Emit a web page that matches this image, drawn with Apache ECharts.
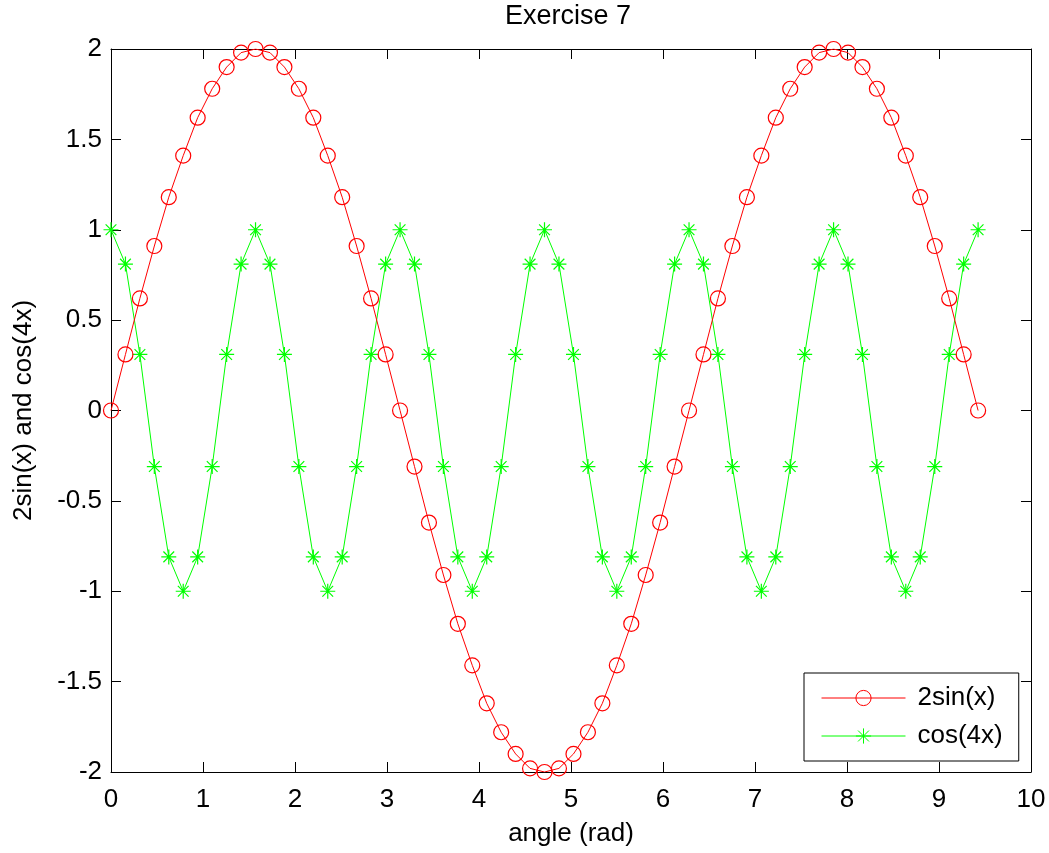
<!DOCTYPE html>
<html>
<head>
<meta charset="utf-8">
<script src="https://cdn.jsdelivr.net/npm/echarts@6/dist/echarts.min.js"></script>
<style>html,body{margin:0;padding:0;background:#fff;}#c{width:1049px;height:853px;}</style>
</head>
<body>
<div id="c"></div>
<script>
const xValues = [0,0.157,0.314,0.471,0.628,0.785,0.942,1.100,1.257,1.414,1.571,1.728,1.885,2.042,2.199,2.356,2.513,2.670,2.827,2.985,3.142,3.299,3.456,3.613,3.770,3.927,4.084,4.241,4.398,4.555,4.712,4.869,5.027,5.184,5.341,5.498,5.655,5.812,5.969,6.126,6.283,6.440,6.597,6.754,6.912,7.069,7.226,7.383,7.540,7.697,7.854,8.011,8.168,8.325,8.482,8.639,8.796,8.954,9.111,9.268,9.425];
const sinValues = [0,0.31,0.62,0.91,1.18,1.41,1.62,1.78,1.9,1.98,2,1.98,1.9,1.78,1.62,1.41,1.18,0.91,0.62,0.31,0,-0.31,-0.62,-0.91,-1.18,-1.41,-1.62,-1.78,-1.9,-1.98,-2,-1.98,-1.9,-1.78,-1.62,-1.41,-1.18,-0.91,-0.62,-0.31,0,0.31,0.62,0.91,1.18,1.41,1.62,1.78,1.9,1.98,2,1.98,1.9,1.78,1.62,1.41,1.18,0.91,0.62,0.31,0];
const cosValues = [1,0.81,0.31,-0.31,-0.81,-1,-0.81,-0.31,0.31,0.81,
  1,0.81,0.31,-0.31,-0.81,-1,-0.81,-0.31,0.31,0.81,
  1,0.81,0.31,-0.31,-0.81,-1,-0.81,-0.31,0.31,0.81,
  1,0.81,0.31,-0.31,-0.81,-1,-0.81,-0.31,0.31,0.81,
  1,0.81,0.31,-0.31,-0.81,-1,-0.81,-0.31,0.31,0.81,
  1,0.81,0.31,-0.31,-0.81,-1,-0.81,-0.31,0.31,0.81,
  1];
const seriesNames = ['2sin(x)', 'cos(4x)'];
const titleText = 'Exercise 7';
const xLabel = 'angle (rad)';
const yLabel = '2sin(x) and cos(4x)';
const xTicks = [0,1,2,3,4,5,6,7,8,9,10];
const yTicks = [-2,-1.5,-1,-0.5,0,0.5,1,1.5,2];

const font = 'Liberation Sans, Arial, sans-serif';
const asterisk = 'path://M0,-6L0,6M-6,0L6,0M-4.3,-4.3L4.3,4.3M-4.3,4.3L4.3,-4.3';
const sinData = xValues.map((x, i) => [x, sinValues[i]]);
const cosData = xValues.map((x, i) => [x, cosValues[i]]);

function axis(extra) {
  return Object.assign({
    axisLine: {show: true, onZero: false, lineStyle: {color: '#000', width: 1}},
    axisTick: {show: true, inside: true, length: 10, lineStyle: {color: '#000'}},
    splitLine: {show: false}
  }, extra);
}

const chart = echarts.init(document.getElementById('c'), null, {renderer: 'canvas'});
chart.setOption({
  animation: false,
  backgroundColor: '#fff',
  title: {
    text: titleText, left: 505, top: 3, padding: 0,
    textStyle: {fontFamily: font, fontSize: 27, fontWeight: 'normal', color: '#000'}
  },
  grid: {left: 111, right: 18, top: 49, bottom: 81, containLabel: false},
  xAxis: [
    axis({
      type: 'value', min: 0, max: 10, interval: 1, position: 'bottom',
      name: xLabel, nameLocation: 'middle', nameGap: 49,
      nameTextStyle: {fontFamily: font, fontSize: 26, color: '#000'},
      axisLabel: {fontFamily: font, fontSize: 26, color: '#000', margin: 15,
        formatter: v => xTicks.includes(v) ? String(v) : ''}
    }),
    axis({
      type: 'value', min: 0, max: 10, interval: 1, position: 'top',
      axisLabel: {show: false}
    })
  ],
  yAxis: [
    axis({
      type: 'value', min: -2, max: 2, interval: 0.5, position: 'left',
      name: yLabel, nameLocation: 'middle', nameGap: 74,
      nameTextStyle: {fontFamily: font, fontSize: 26, color: '#000'},
      axisLabel: {fontFamily: font, fontSize: 26, color: '#000', margin: 9,
        formatter: v => yTicks.includes(v) ? String(v) : ''}
    }),
    axis({
      type: 'value', min: -2, max: 2, interval: 0.5, position: 'right',
      axisLabel: {show: false}
    })
  ],
  legend: {
    orient: 'vertical', left: 804, top: 673,
    padding: [12, 16, 12, 17], itemGap: 12,
    itemWidth: 84, itemHeight: 19,
    borderColor: '#000', borderWidth: 1, backgroundColor: '#fff',
    lineStyle: {width: 1},
    itemStyle: {borderWidth: 1},
    textStyle: {fontFamily: font, fontSize: 26, color: '#000', padding: [0, 0, 0, 7]},
    data: seriesNames
  },
  series: [
    {
      name: seriesNames[0], type: 'line', data: sinData,
      xAxisIndex: 0, yAxisIndex: 0,
      symbol: 'circle', symbolSize: 15, showAllSymbol: true,
      lineStyle: {color: '#ff0000', width: 1},
      itemStyle: {color: 'transparent', borderColor: '#ff0000', borderWidth: 1.2},
      z: 3
    },
    {
      name: seriesNames[1], type: 'line', data: cosData,
      xAxisIndex: 0, yAxisIndex: 0,
      symbol: asterisk, symbolSize: 15, showAllSymbol: true,
      lineStyle: {color: '#00ff00', width: 1},
      itemStyle: {color: '#00ff00', borderColor: '#00ff00', borderWidth: 1.2},
      z: 2
    }
  ]
});
</script>
</body>
</html>
